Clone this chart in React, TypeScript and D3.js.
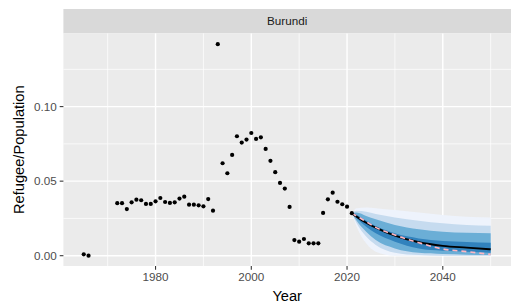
import React from "react";
import * as d3 from "d3";

const country = "Burundi";
const obsYears = [1965, 1966, 1972, 1973, 1974, 1975, 1976, 1977, 1978, 1979, 1980, 1981, 1982, 1983, 1984, 1985, 1986, 1987, 1988, 1989, 1990, 1991, 1992, 1993, 1994, 1995, 1996, 1997, 1998, 1999, 2000, 2001, 2002, 2003, 2004, 2005, 2006, 2007, 2008, 2009, 2010, 2011, 2012, 2013, 2014, 2015, 2016, 2017, 2018, 2019, 2020, 2021];
const obsValues = [0.0009, 0.0, 0.0352, 0.0352, 0.0313, 0.0358, 0.0376, 0.0372, 0.0347, 0.0347, 0.0365, 0.0387, 0.036, 0.0354, 0.0358, 0.0383, 0.0396, 0.0342, 0.0342, 0.0338, 0.0331, 0.038, 0.0302, 0.1419, 0.062, 0.0553, 0.0676, 0.0801, 0.0759, 0.0779, 0.0823, 0.0783, 0.0794, 0.0716, 0.0636, 0.056, 0.0488, 0.045, 0.0327, 0.0105, 0.0094, 0.0112, 0.0083, 0.0083, 0.0083, 0.0287, 0.0378, 0.0423, 0.0362, 0.0345, 0.0329, 0.0285];

const fcYears = [2021, 2022, 2024, 2026, 2030, 2035, 2040, 2045, 2050];
const hi95 = [0.0284, 0.0318, 0.0324, 0.0318, 0.0306, 0.0289, 0.0273, 0.0262, 0.0257];
const hi90 = [0.0284, 0.0302, 0.0295, 0.028, 0.0257, 0.0235, 0.0217, 0.0206, 0.0201];
const hi80 = [0.0284, 0.0289, 0.0266, 0.0244, 0.0206, 0.0177, 0.0161, 0.0154, 0.015];
const hi50 = [0.0284, 0.0273, 0.0235, 0.0199, 0.015, 0.0116, 0.0098, 0.0092, 0.0087];
const median = [0.0284, 0.0262, 0.0221, 0.0188, 0.0134, 0.009, 0.0066, 0.0054, 0.0043];
const lo50 = [0.0284, 0.0251, 0.0195, 0.015, 0.0094, 0.0049, 0.0034, 0.0027, 0.002];
const lo80 = [0.0284, 0.0235, 0.0161, 0.0105, 0.0049, 0.002, 0.0011, 0.0007, 0.0004];
const lo90 = [0.0284, 0.0217, 0.0128, 0.0072, 0.002, 0.0004, 0.0, 0.0, 0.0];
const lo95 = [0.0284, 0.0195, 0.0083, 0.0027, 0.0, 0.0, 0.0, 0.0, 0.0];
const meanLine = [0.0284, 0.0266, 0.0228, 0.019, 0.0139, 0.0087, 0.0045, 0.0027, 0.0009];

const xMajor = [1980, 2000, 2020, 2040];
const xMinor = [1970, 1990, 2010, 2030, 2050];
const yMajor = [0, 0.05, 0.1];
const yMinor = [0.025, 0.075, 0.125];
const yLabels = ["0.00", "0.05", "0.10"];

const W = 511, H = 306;
const PL = 63.4, PR = 511, PT = 33.4, PB = 266;

export default function App() {
  const x = d3.scaleLinear().domain([1960.75, 2054.25]).range([PL, PR]);
  const y = d3.scaleLinear().domain([-0.00691, 0.1491]).range([PB, PT]);

  const band = (lo: number[], hi: number[]) =>
    d3.area<number>()
      .x((_, i) => x(fcYears[i]))
      .y0((_, i) => y(lo[i]))
      .y1((_, i) => y(hi[i]))
      .curve(d3.curveMonotoneX)(fcYears.map((_, i) => i)) || "";
  const line = (v: number[]) =>
    d3.line<number>()
      .x((_, i) => x(fcYears[i]))
      .y((_, i) => y(v[i]))
      .curve(d3.curveMonotoneX)(fcYears.map((_, i) => i)) || "";

  const font = "Liberation Sans, Arial, sans-serif";
  return (
    <svg width={W} height={H} style={{ position: "absolute", left: 0, top: 0, background: "#fff" }}>
      <rect x={0} y={0} width={W} height={H} fill="#fff" />
      <rect x={PL} y={9} width={PR - PL} height={PT - 9} fill="#D9D9D9" />
      <text x={(PL + PR) / 2} y={25.3} textAnchor="middle" fontFamily={font} fontSize={11.7} fill="#1A1A1A">{country}</text>
      <rect x={PL} y={PT} width={PR - PL} height={PB - PT} fill="#EBEBEB" />
      {yMinor.map((v) => <line key={"ym" + v} x1={PL} x2={PR} y1={y(v)} y2={y(v)} stroke="#fff" strokeWidth={0.7} />)}
      {xMinor.map((v) => <line key={"xm" + v} y1={PT} y2={PB} x1={x(v)} x2={x(v)} stroke="#fff" strokeWidth={0.7} />)}
      {yMajor.map((v) => <line key={"yM" + v} x1={PL} x2={PR} y1={y(v)} y2={y(v)} stroke="#fff" strokeWidth={1.4} />)}
      {xMajor.map((v) => <line key={"xM" + v} y1={PT} y2={PB} x1={x(v)} x2={x(v)} stroke="#fff" strokeWidth={1.4} />)}
      <path d={band(lo95, hi95)} fill="#EEF3FC" />
      <path d={band(lo90, hi90)} fill="#C6DBEF" />
      <path d={band(lo80, hi80)} fill="#6BAED6" />
      <path d={band(lo50, hi50)} fill="#3182BD" />
      <path d={line(median)} fill="none" stroke="#000" strokeWidth={1.9} />
      <path d={line(meanLine)} fill="none" stroke="#FFB6C1" strokeWidth={1.6} strokeDasharray="5,4" />
      {obsYears.map((yr, i) => <circle key={yr} cx={x(yr)} cy={y(obsValues[i])} r={2.1} fill="#000" />)}
      {yMajor.map((v, i) => (
        <g key={"yt" + v}>
          <line x1={PL - 3.7} x2={PL} y1={y(v)} y2={y(v)} stroke="#333" strokeWidth={1.07} />
          <text x={PL - 6.6} y={y(v) + 4.1} textAnchor="end" fontFamily={font} fontSize={11.7} fill="#4D4D4D">{yLabels[i]}</text>
        </g>
      ))}
      {xMajor.map((v) => (
        <g key={"xt" + v}>
          <line y1={PB} y2={PB + 3.7} x1={x(v)} x2={x(v)} stroke="#333" strokeWidth={1.07} />
          <text x={x(v)} y={PB + 15} textAnchor="middle" fontFamily={font} fontSize={11.7} fill="#4D4D4D">{v}</text>
        </g>
      ))}
      <text x={(PL + PR) / 2} y={301} textAnchor="middle" fontFamily={font} fontSize={14.67} fill="#000">Year</text>
      <text transform={`translate(23.5,${(PT + PB) / 2}) rotate(-90)`} textAnchor="middle" fontFamily={font} fontSize={14.67} fill="#000">Refugee/Population</text>
    </svg>
  );
}
